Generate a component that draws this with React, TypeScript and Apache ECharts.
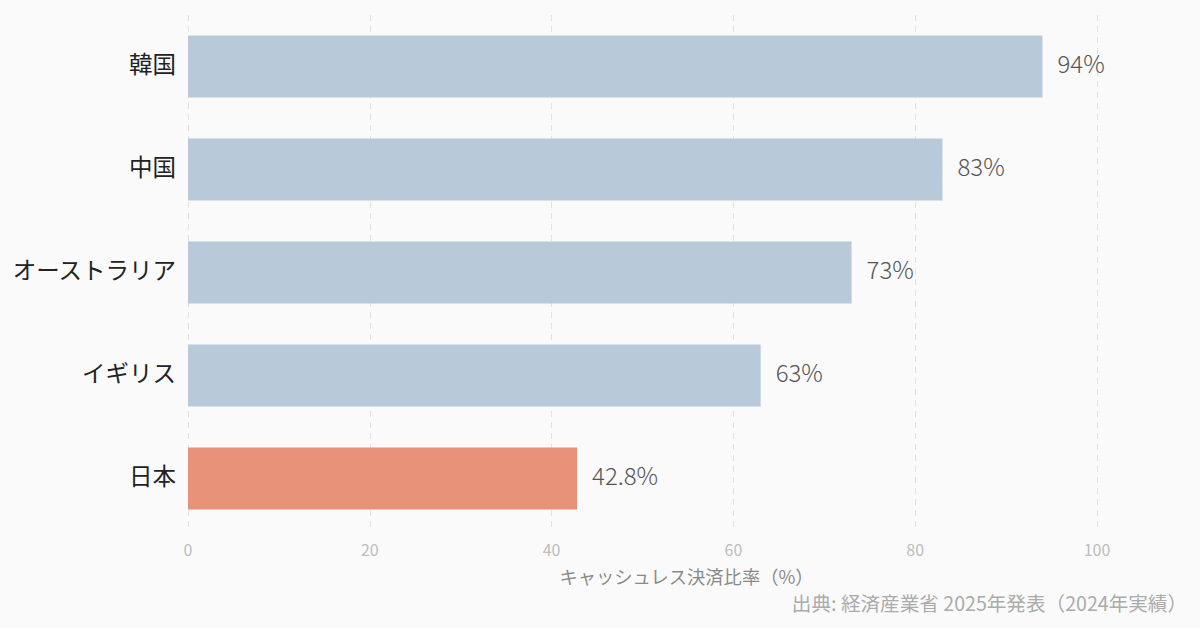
import React, { useEffect, useRef } from "react";
import * as echarts from "echarts";

const categories = ["日本", "イギリス", "オーストラリア", "中国", "韓国"];
const values = [42.8, 63, 73, 83, 94];
const valueLabels = ["42.8%", "63%", "73%", "83%", "94%"];
const highlight = "日本";
const xTicks = [0, 20, 40, 60, 80, 100];
const axisName = "キャッシュレス決済比率（%）";
const sourceText = "出典: 経済産業省 2025年発表（2024年実績）";

const FONT = "'Noto Sans CJK JP', 'Noto Sans', sans-serif";

export default function App() {
  const ref = useRef<HTMLDivElement>(null);
  useEffect(() => {
    if (!ref.current) return;
    const chart = echarts.init(ref.current, null, { renderer: "svg" });
    chart.setOption({
      animation: false,
      backgroundColor: "#fafafa",
      textStyle: { fontFamily: FONT },
      grid: { left: 188, right: 103, top: 15, bottom: 98, containLabel: false },
      xAxis: {
        type: "value",
        min: xTicks[0],
        max: xTicks[xTicks.length - 1],
        interval: 20,
        axisLine: { show: false },
        axisTick: { show: false },
        splitLine: { show: true, lineStyle: { color: "#e2e2e2", type: [6, 5], width: 1 } },
        axisLabel: { color: "#bdbdbd", fontSize: 16, margin: 11, fontFamily: FONT },
        name: axisName,
        nameLocation: "middle",
        nameGap: 37,
        nameTextStyle: { color: "#8a8a8a", fontSize: 18.3, fontFamily: FONT, padding: [0, 0, 0, 88] },
      },
      yAxis: {
        type: "category",
        data: categories,
        axisLine: { show: false },
        axisTick: { show: false },
        splitLine: { show: false },
        axisLabel: {
          color: "#222",
          fontSize: 23.5,
          margin: 12,
          fontFamily: FONT,
          verticalAlign: "bottom",
          lineHeight: 8,
        },
      },
      series: [
        {
          type: "bar",
          barWidth: 62,
          data: values.map((v, i) => ({
            value: v,
            itemStyle: { color: categories[i] === highlight ? "#e8927a" : "#b8c9d9" },
            label: { formatter: valueLabels[i] },
          })),
          label: {
            show: true,
            position: "right",
            distance: 15,
            offset: [0, -4],
            color: "#555",
            fontSize: 24,
            fontWeight: 300,
            fontFamily: FONT,
          },
        },
      ],
      graphic: [
        {
          type: "text",
          right: 13,
          top: 593,
          style: { text: sourceText, fill: "#ababab", fontSize: 19.6, fontFamily: FONT },
        },
      ],
    });
    return () => chart.dispose();
  }, []);
  return (
    <div
      ref={ref}
      style={{ position: "absolute", left: 0, top: 0, width: 1200, height: 628 }}
    />
  );
}
